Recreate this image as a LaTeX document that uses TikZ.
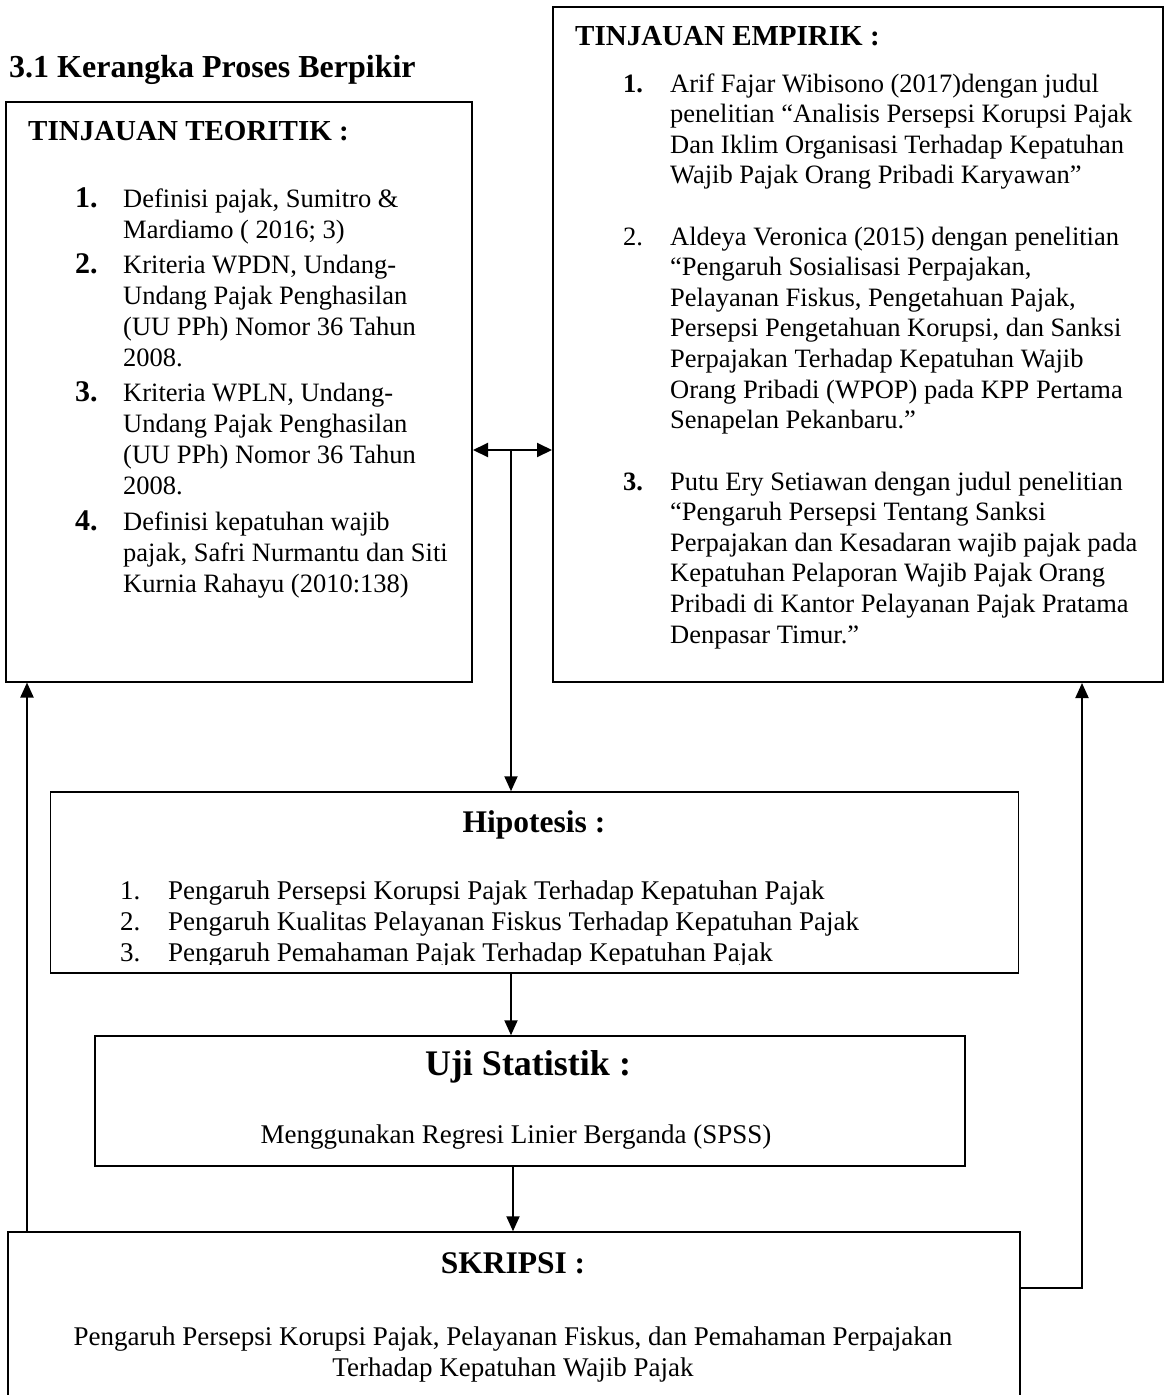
\documentclass[tikz,border=0pt]{standalone}
\usepackage{fontspec}
\setmainfont{Liberation Serif}
\usetikzlibrary{arrows.meta,positioning}

\newcommand{\leftlines}[1]{\begin{tabular}[t]{@{}l@{}}#1\end{tabular}}
\newcommand{\midlines}[1]{\begin{tabular}[t]{@{}c@{}}#1\end{tabular}}

\begin{document}
\begin{tikzpicture}[x=1pt,y=-1pt]

	\tikzset{
		box/.style={draw,line width=2pt,inner sep=0pt},
		txt/.style={inner sep=0pt,anchor=base west,font=\fontsize{26.5}{31}\selectfont},
		rtxt/.style={txt,font=\fontsize{26.5}{30.6}\selectfont},
		ltxt/.style={txt,font=\fontsize{27}{31}\selectfont},
		num/.style={inner sep=0pt,anchor=base west,font=\bfseries\fontsize{30}{31}\selectfont},
		head/.style={inner sep=0pt,anchor=base,font=\bfseries\fontsize{31.5}{36}\selectfont},
		link/.style={line width=2pt,-{Triangle[length=15pt,width=13pt]}},
		twoway/.style={line width=2pt,{Triangle[length=15pt,width=14pt]}-{Triangle[length=15pt,width=14pt]}}
	}

	\useasboundingbox (0,0) rectangle (1166,1395);
	\clip (0,0) rectangle (1166,1395);

	% boxes
	\node[box,minimum width=466,minimum height=580] (teori) at (239,391.5) {};
	\node[box,minimum width=610,minimum height=675] (empiris) at (858,344.5) {};
	\node[box,line width=1.5pt,minimum width=968,minimum height=181] (hipo) at (534.5,882.5) {};
	\node[box,line width=1.5pt,minimum width=870,minimum height=130] (uji) at (530,1101) {};
	\node[box,line width=1.5pt,minimum width=1012,minimum height=240] (skripsi) at (514,1352) {};

	\node[head,anchor=base west,font=\bfseries\fontsize{32}{36}\selectfont] (title) at (9,77) {3.1 Kerangka Proses Berpikir};

	% tinjauan teoritik
	\node[head,anchor=base west,font=\bfseries\fontsize{29}{34}\selectfont] (teoriHead) at (28,140) {TINJAUAN TEORITIK :};

	\node[num] (t1n) at (75,207) {1.};
	\node[txt] (t1) at (123,207) {\leftlines{Definisi pajak, Sumitro \&\\Mardiamo ( 2016; 3)}};
	\node[num] (t2n) at (75,273) {2.};
	\node[txt] (t2) at (123,273) {\leftlines{Kriteria WPDN, Undang-\\Undang Pajak Penghasilan\\(UU PPh) Nomor 36 Tahun\\2008.}};
	\node[num] (t3n) at (75,401) {3.};
	\node[txt] (t3) at (123,401) {\leftlines{Kriteria WPLN, Undang-\\Undang Pajak Penghasilan\\(UU PPh) Nomor 36 Tahun\\2008.}};
	\node[num] (t4n) at (75,530) {4.};
	\node[txt] (t4) at (123,530) {\leftlines{Definisi kepatuhan wajib\\pajak, Safri Nurmantu dan Siti\\Kurnia Rahayu (2010:138)}};

	% tinjauan empirik
	\node[head,anchor=base west,font=\bfseries\fontsize{29}{34}\selectfont] (empirisHead) at (575,45) {TINJAUAN EMPIRIK :};

	\node[rtxt,font=\bfseries\fontsize{26.5}{30.6}\selectfont] (e1n) at (623,92) {1.};
	\node[rtxt] (e1) at (670,92) {\leftlines{Arif Fajar Wibisono (2017)dengan judul\\penelitian “Analisis Persepsi Korupsi Pajak\\Dan Iklim Organisasi Terhadap Kepatuhan\\Wajib Pajak Orang Pribadi Karyawan”}};
	\node[rtxt] (e2n) at (623,245) {2.};
	\node[rtxt] (e2) at (670,245) {\leftlines{Aldeya Veronica (2015) dengan penelitian\\“Pengaruh Sosialisasi Perpajakan,\\Pelayanan Fiskus, Pengetahuan Pajak,\\Persepsi Pengetahuan Korupsi, dan Sanksi\\Perpajakan Terhadap Kepatuhan Wajib\\Orang Pribadi (WPOP) pada KPP Pertama\\Senapelan Pekanbaru.”}};
	\node[rtxt,font=\bfseries\fontsize{26.5}{30.6}\selectfont] (e3n) at (623,490) {3.};
	\node[rtxt] (e3) at (670,490) {\leftlines{Putu Ery Setiawan dengan judul penelitian\\“Pengaruh Persepsi Tentang Sanksi\\Perpajakan dan Kesadaran wajib pajak pada\\Kepatuhan Pelaporan Wajib Pajak Orang\\Pribadi di Kantor Pelayanan Pajak Pratama\\Denpasar Timur.”}};

	% hipotesis
	\node[head] (hipoHead) at (534,832) {Hipotesis :};
	\begin{scope}
		\clip (hipo.north west) rectangle ([yshift=9pt]hipo.south east);
		\node[ltxt] (h1n) at (120,899) {\leftlines{1.\\2.\\3.}};
		\node[ltxt] (h1) at (168,899) {\leftlines{Pengaruh Persepsi Korupsi Pajak Terhadap Kepatuhan Pajak\\Pengaruh Kualitas Pelayanan Fiskus Terhadap Kepatuhan Pajak\\Pengaruh Pemahaman Pajak Terhadap Kepatuhan Pajak}};
	\end{scope}

	% uji statistik
	\node[head,font=\bfseries\fontsize{36}{40}\selectfont] (ujiHead) at (528,1075) {Uji Statistik :};
	\node[ltxt,anchor=base] (ujiText) at (516,1143) {Menggunakan Regresi Linier Berganda (SPSS)};

	% skripsi
	\node[head] (skripsiHead) at (513,1273) {SKRIPSI :};
	\node[ltxt,anchor=base] (skripsiText) at (513,1345) {\midlines{Pengaruh Persepsi Korupsi Pajak, Pelayanan Fiskus, dan Pemahaman Perpajakan\\Terhadap Kepatuhan Wajib Pajak}};

	% arrows
	\coordinate (spine) at (511,450);
	\coordinate (back) at (27,0);
	\coordinate (corner) at (1082,1288);

	\draw[twoway] (teori.east |- spine) -- (empiris.west |- spine);
	\draw[link] (spine) -- (spine |- hipo.north);
	\draw[link] (spine |- hipo.south) -- (spine |- uji.north);
	\draw[link] ([xshift=2pt]spine |- uji.south) -- ([xshift=2pt]spine |- skripsi.north);
	\draw[link] (back |- skripsi.north) -- (back |- teori.south);
	\draw[link] (skripsi.east |- corner) -- (corner) -- (corner |- empiris.south);

\end{tikzpicture}
\end{document}
